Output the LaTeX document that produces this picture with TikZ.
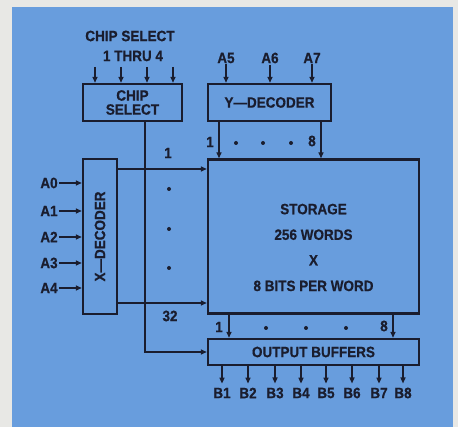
\documentclass[tikz,border=0pt]{standalone}
\usepackage{fontspec}
\setmainfont{Liberation Sans}[FakeStretch=0.9, BoldFeatures={FakeBold=0.6}]
\usepackage{tikz}
\usetikzlibrary{arrows.meta, positioning}

\definecolor{pagegray}{RGB}{232,232,229}
\definecolor{panelblue}{RGB}{104,157,221}
\definecolor{ink}{RGB}{26,29,46}

\begin{document}
\begin{tikzpicture}[
  x=1pt, y=-1pt,
  box/.style={draw=ink, line width=2.4pt, inner sep=0pt, align=center, text=ink,
    font=\fontsize{15}{16}\selectfont\bfseries},
  lbl/.style={inner sep=1pt, text=ink, font=\fontsize{15}{17}\selectfont\bfseries},
  arr/.style={draw=ink, line width=1.4pt, -{Triangle[length=6pt, width=5pt]}},
  dot/.style={circle, fill=ink, inner sep=0pt, minimum size=4pt}
]
  \useasboundingbox (0,0) rectangle (458,427);
  \fill[pagegray] (0,0) rectangle (458,427);
  \fill[panelblue] (12,7) rectangle (453,427);

  % blocks
  \node[box, minimum width=99pt, minimum height=37pt] (chipsel) at (132.5,102.5) {CHIP\\[-2pt]SELECT};
  \node[box, minimum width=123pt, minimum height=37pt] (ydec) at (269.5,102.5) {Y---DECODER};
  \node[box, minimum width=34pt, minimum height=155pt] (xdec) at (100,236.5) {\rotatebox{90}{X---DECODER}};
  \node[box, minimum width=211pt, minimum height=154pt] (storage) at (313.5,236.5) {};
  \node[lbl, align=center, font=\fontsize{15}{25.6}\selectfont\bfseries] (storetxt)
    at ([yshift=-11pt]storage.center) {STORAGE\\256 WORDS\\X\\8 BITS PER WORD};
  \node[box, minimum width=211pt, minimum height=26pt] (outbuf) at (313.5,352) {OUTPUT BUFFERS};

  % chip select inputs
  \node[lbl] (cstitle) at (130,36) {CHIP SELECT};
  \node[lbl] (csrange) at (133,56) {1 THRU 4};
  \foreach \cx [count=\i] in {95,121,147,173} {
    \coordinate (cs\i) at (\cx,67);
    \draw[arr] (cs\i) -- (cs\i |- chipsel.north);
  }

  % y address inputs
  \node[lbl] (a5) at (226,58) {A5};
  \node[lbl] (a6) at (270,58) {A6};
  \node[lbl] (a7) at (312,58) {A7};
  \foreach \n in {a5,a6,a7}
    \draw[arr] (\n) -- (\n |- ydec.north);

  % x address inputs
  \foreach \ay [count=\i from 0] in {183,211,237,263,288} {
    \node[lbl] (a\i) at (49,\ay) {A\i};
    \draw[arr] (a\i.east) -- (a\i -| xdec.west);
  }

  % x decoder to storage
  \coordinate (row1) at (0,169);
  \coordinate (row32) at (0,303);
  \draw[arr] (row1 -| xdec.east) -- (row1 -| storage.west);
  \draw[arr] (row32 -| xdec.east) -- (row32 -| storage.west);
  \node[lbl] (r1) at (168,153) {1};
  \node[lbl] (r32) at (170,316) {32};
  \node[dot] (rd1) at (169,189) {};
  \node[dot] (rd2) at (169,229) {};
  \node[dot] (rd3) at (169,268) {};

  % y decoder to storage
  \coordinate (col1) at (219,0);
  \coordinate (col8) at (321,0);
  \draw[arr] (col1 |- ydec.south) -- (col1 |- storage.north);
  \draw[arr] (col8 |- ydec.south) -- (col8 |- storage.north);
  \node[lbl] (c1) at (210,142) {1};
  \node[lbl] (c8) at (312,141) {8};
  \node[dot] (cd1) at (236,143) {};
  \node[dot] (cd2) at (263,143) {};
  \node[dot] (cd3) at (291,143) {};

  % chip select enable
  \coordinate (enable) at (145,0);
  \draw[arr] (enable |- chipsel.south) |- (outbuf.west);

  % storage to output buffers
  \coordinate (bit1) at (229,0);
  \coordinate (bit8) at (393,0);
  \draw[arr] (bit1 |- storage.south) -- (bit1 |- outbuf.north);
  \draw[arr] (bit8 |- storage.south) -- (bit8 |- outbuf.north);
  \node[lbl] (s1) at (219,327) {1};
  \node[lbl] (s8) at (384,326) {8};
  \node[dot] (sd1) at (266,328) {};
  \node[dot] (sd2) at (306,328) {};
  \node[dot] (sd3) at (346,328) {};

  % outputs
  \foreach \bx [count=\i] in {222,248,275,301,326,352,379,403} {
    \node[lbl] (b\i) at (\bx,393) {B\i};
    \draw[arr, shorten >=3pt] (b\i |- outbuf.south) -- (b\i.north);
  }
\end{tikzpicture}
\end{document}
